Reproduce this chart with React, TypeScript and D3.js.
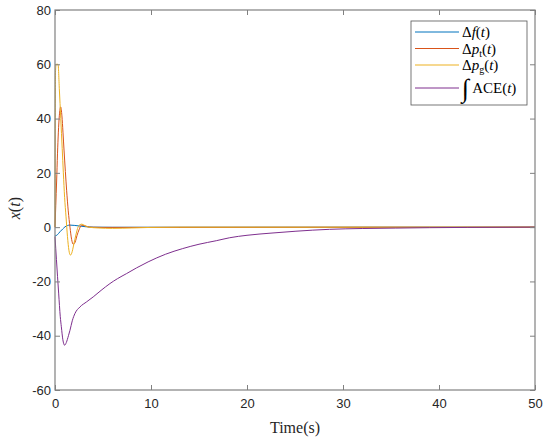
import { useEffect, useRef } from "react";
import * as d3 from "d3";

// [time (s), value] samples
const deltaF: [number, number][] = [
  [0, -3.3], [0.25, -2.8], [0.52, -1.7], [0.8, -0.7], [1.04, 0.1], [1.3, 0.6],
  [1.56, 0.75], [2, 0.65], [2.6, 0.4], [3.2, 0.15], [4, 0], [6, -0.05], [50, 0],
];

const deltaPt: [number, number][] = [
  [0, 0], [0.08, 8], [0.17, 17], [0.26, 27], [0.35, 35], [0.45, 41], [0.59, 44.3],
  [0.72, 41], [0.83, 35], [0.94, 28.4], [1.08, 20.5], [1.21, 13.6], [1.38, 6],
  [1.56, 0], [1.73, -4.5], [1.9, -6.3], [2.1, -5.5], [2.3, -3], [2.5, -1],
  [2.77, 0.7], [3.1, 0.5], [3.6, 0], [5, -0.1], [50, 0],
];

const deltaPg: [number, number][] = [
  [0, 0], [0.05, 57], [0.12, 60], [0.32, 60], [0.45, 51], [0.6, 40], [0.75, 29],
  [0.87, 20], [1.0, 11], [1.15, 3.8], [1.3, -3.5], [1.45, -8.5], [1.6, -10.3],
  [1.75, -9.5], [1.95, -6.5], [2.2, -2.5], [2.4, 0], [2.6, 0.9], [2.8, 1.1],
  [3.1, 0.6], [3.5, 0], [4.5, -0.3], [6, -0.45], [8, -0.3], [10, -0.1], [13, 0], [50, 0],
];

const intACE: [number, number][] = [
  [0, -3.5], [0.15, -12], [0.38, -24.3], [0.55, -33], [0.66, -36.7], [0.82, -41.5],
  [1.0, -43.5], [1.18, -42.5], [1.4, -40], [1.56, -38], [1.8, -34.5], [2.08, -31.8],
  [2.6, -29.4], [3.3, -27.5], [3.98, -25.7], [4.8, -23.3], [5.72, -20.8], [6.5, -19.0],
  [7.46, -17.1], [8.5, -15.0], [9.7, -12.8], [11.5, -10.0], [13.3, -7.9], [15, -6.3],
  [16.8, -5.0], [18.2, -3.9], [20, -3.0], [22.5, -2.2], [25.1, -1.5], [28.6, -0.8],
  [32, -0.5], [35.5, -0.35], [39, -0.2], [43, -0.1], [50, 0],
];

const xTicks = [0, 10, 20, 30, 40, 50];
const yTicks = [-60, -40, -20, 0, 20, 40, 60, 80];

const seriesList = [
  { key: "df", data: deltaF, color: "#0072BD" },
  { key: "pt", data: deltaPt, color: "#D95319" },
  { key: "pg", data: deltaPg, color: "#EDB120" },
  { key: "ace", data: intACE, color: "#7E2F8E" },
];

const App = () => {
  const svgRef = useRef<SVGSVGElement>(null);

  useEffect(() => {
    const width = 550;
    const height = 440;
    const margin = { top: 10, right: 15, bottom: 50, left: 55 };
    const w = width - margin.left - margin.right;
    const h = height - margin.top - margin.bottom;

    const root = d3.select(svgRef.current);
    root.selectAll("*").remove();

    const svg = root.append("g").attr("transform", `translate(${margin.left},${margin.top})`);

    const x = d3.scaleLinear().domain([0, 50]).range([0, w]);
    const y = d3.scaleLinear().domain([-60, 80]).range([h, 0]);

    const line = d3
      .line<[number, number]>()
      .x((d) => x(d[0]))
      .y((d) => y(d[1]))
      .curve(d3.curveMonotoneX);

    svg
      .append("g")
      .selectAll("path")
      .data(seriesList)
      .join("path")
      .attr("fill", "none")
      .attr("stroke", (d) => d.color)
      .attr("stroke-width", 1)
      .attr("d", (d) => line(d.data));

    const axisColor = "#808080";
    const tickFont = "'Liberation Sans', Arial, sans-serif";

    const styleAxis = (g: d3.Selection<SVGGElement, unknown, null, undefined>) => {
      g.select(".domain").remove();
      g.selectAll("line").attr("stroke", axisColor);
      g.selectAll("text").attr("fill", "#262626").attr("font-family", tickFont).attr("font-size", 13);
    };

    svg
      .append("g")
      .attr("transform", `translate(0,${h})`)
      .call(
        d3.axisBottom(x).tickValues(xTicks).tickSizeInner(-5).tickSizeOuter(0).tickPadding(9)
          .tickFormat((d) => String(d)),
      )
      .call(styleAxis);
    svg
      .append("g")
      .call(d3.axisTop(x).tickValues(xTicks).tickSizeInner(-5).tickSizeOuter(0).tickFormat(() => ""))
      .call(styleAxis);
    svg
      .append("g")
      .call(
        d3.axisLeft(y).tickValues(yTicks).tickSizeInner(-5).tickSizeOuter(0).tickPadding(4)
          .tickFormat((d) => String(d)),
      )
      .call(styleAxis);
    svg
      .append("g")
      .attr("transform", `translate(${w},0)`)
      .call(d3.axisRight(y).tickValues(yTicks).tickSizeInner(-5).tickSizeOuter(0).tickFormat(() => ""))
      .call(styleAxis);

    svg
      .append("rect")
      .attr("width", w)
      .attr("height", h)
      .attr("fill", "none")
      .attr("stroke", axisColor)
      .attr("stroke-width", 1.2);

    const serif = "'Liberation Serif', 'Times New Roman', serif";

    // axis labels
    svg
      .append("text")
      .attr("x", w / 2)
      .attr("y", h + 43)
      .attr("text-anchor", "middle")
      .attr("font-family", serif)
      .attr("font-size", 16)
      .attr("fill", "#262626")
      .text("Time(s)");

    const yl = svg
      .append("text")
      .attr("transform", `translate(-35,${y(7)}) rotate(-90)`)
      .attr("text-anchor", "middle")
      .attr("font-family", serif)
      .attr("font-size", 16)
      .attr("fill", "#262626");
    yl.append("tspan").attr("font-style", "italic").text("x");
    yl.append("tspan").text("(");
    yl.append("tspan").attr("font-style", "italic").text("t");
    yl.append("tspan").text(")");

    // legend
    const lg = root.append("g").attr("transform", "translate(411,21)");
    lg.append("rect")
      .attr("width", 116)
      .attr("height", 84)
      .attr("fill", "white")
      .attr("stroke", "#555")
      .attr("stroke-width", 0.8);

    const rowY = [11, 27.5, 44, 67];
    seriesList.forEach((s, i) => {
      const gy = rowY[i];
      lg.append("line")
        .attr("x1", 4)
        .attr("x2", 48)
        .attr("y1", gy)
        .attr("y2", gy)
        .attr("stroke", s.color)
        .attr("stroke-width", 1);
      const t = lg
        .append("text")
        .attr("x", 51)
        .attr("y", gy + 5)
        .attr("font-family", serif)
        .attr("font-size", 15)
        .attr("fill", "#000");
      if (s.key === "ace") {
        t.append("tspan").attr("font-size", 26).attr("dy", 4).text("∫");
        t.append("tspan").attr("dy", -4).attr("dx", 3).text("ACE(");
        t.append("tspan").attr("font-style", "italic").text("t");
        t.append("tspan").text(")");
      } else {
        t.append("tspan").text("Δ");
        if (s.key === "df") {
          t.append("tspan").attr("font-style", "italic").text("f");
        } else {
          t.append("tspan").attr("font-style", "italic").text("p");
          t.append("tspan").attr("font-size", 10).attr("dy", 3).text(s.key === "pt" ? "t" : "g");
          t.append("tspan").attr("dy", -3).text("(");
        }
        if (s.key === "df") t.append("tspan").text("(");
        t.append("tspan").attr("font-style", "italic").text("t");
        t.append("tspan").text(")");
      }
    });
  }, []);

  return (
    <svg
      ref={svgRef}
      width={550}
      height={440}
      style={{ position: "absolute", left: 0, top: 0, background: "white" }}
    />
  );
};

export default App;
